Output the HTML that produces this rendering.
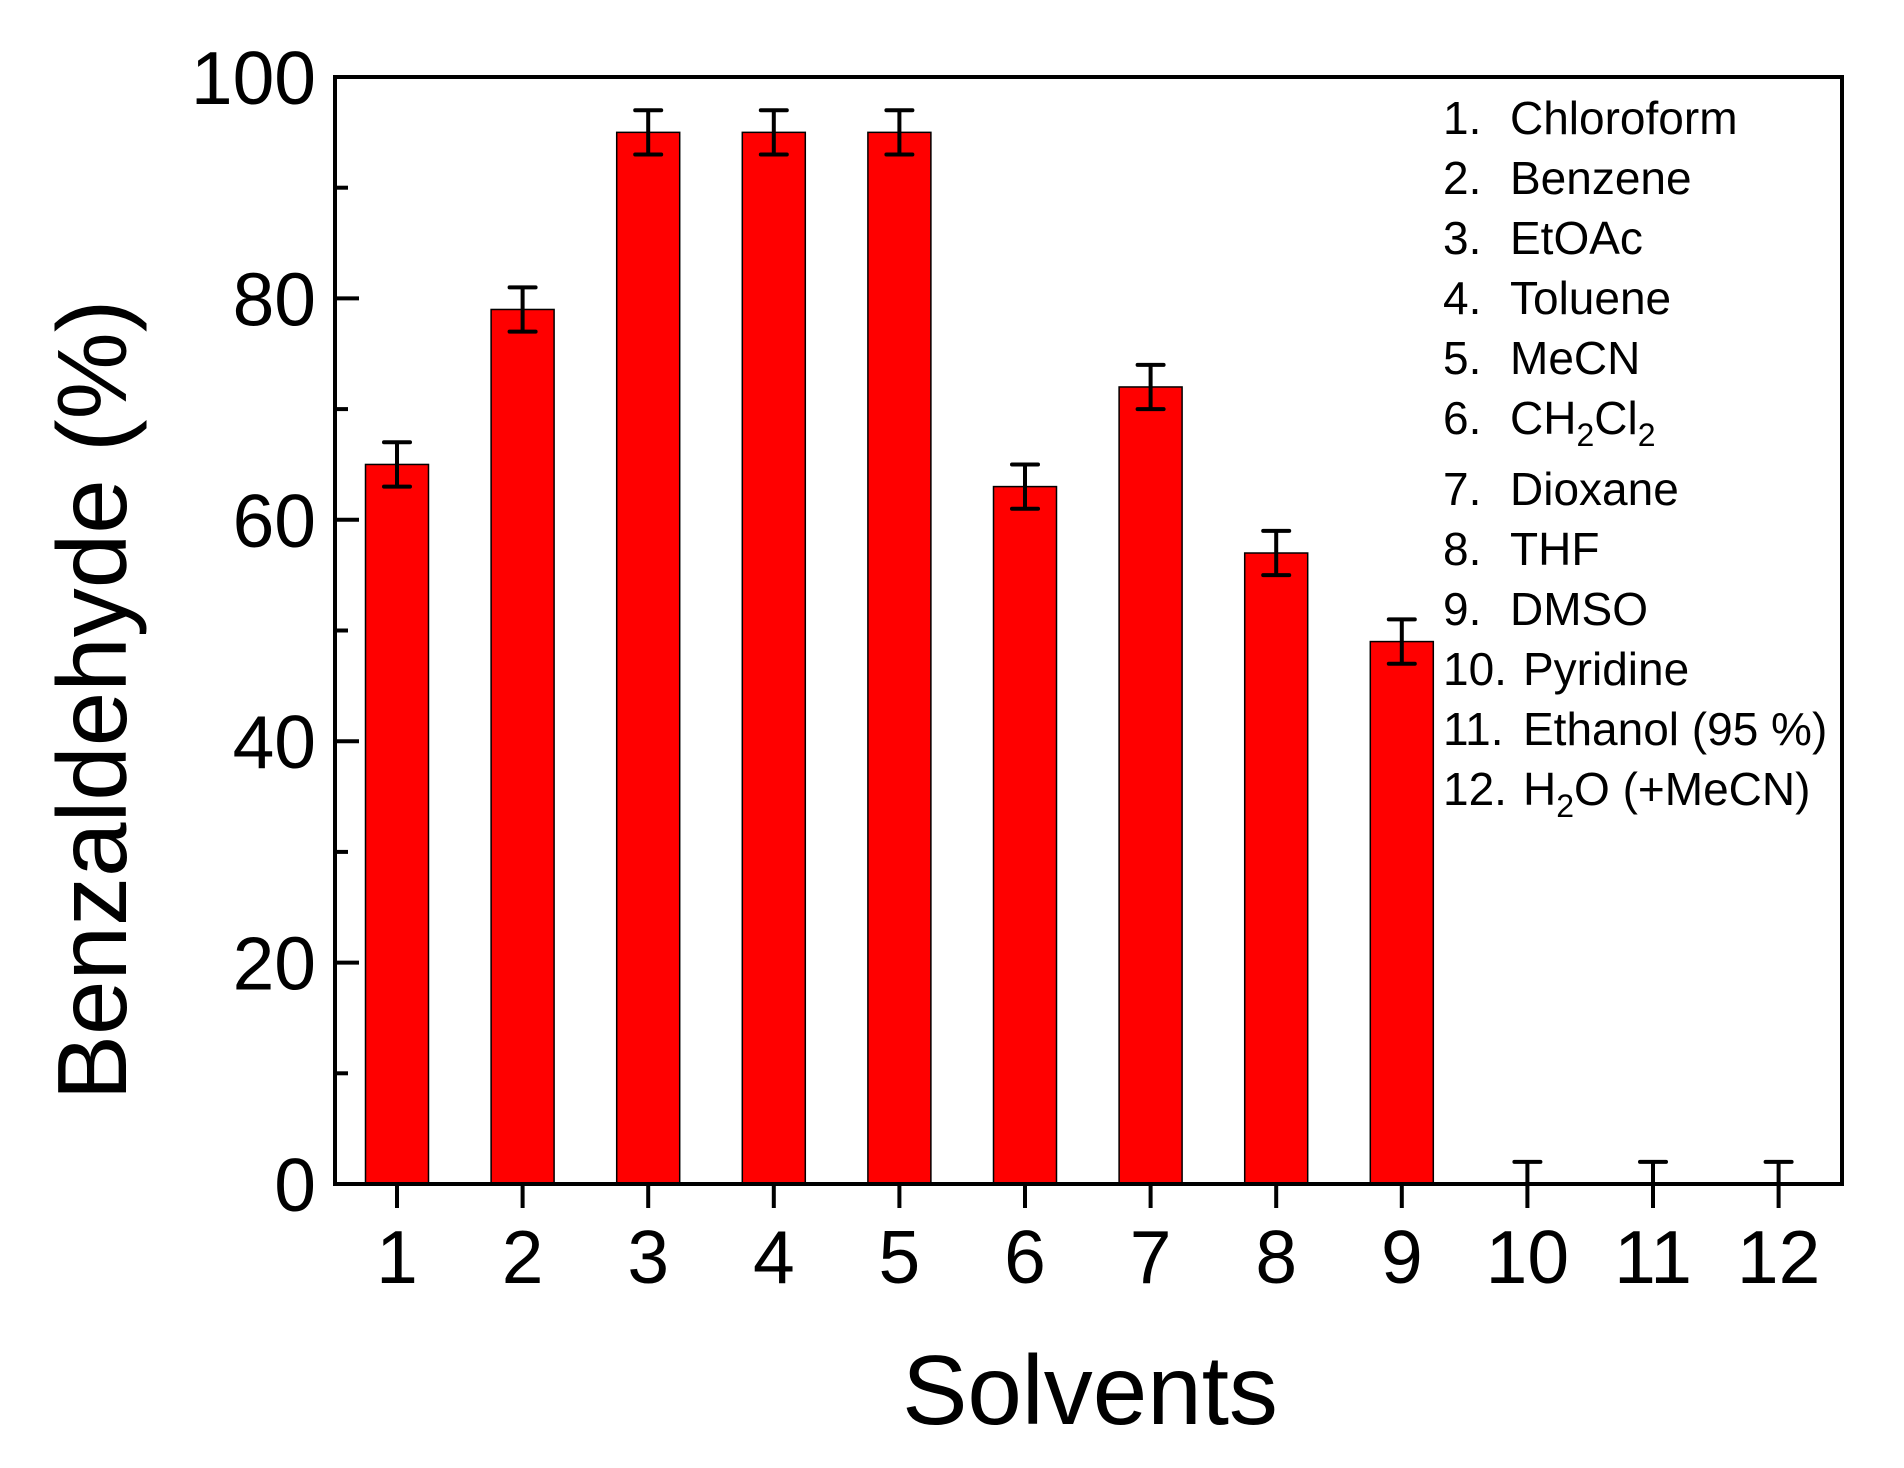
<!DOCTYPE html>
<html><head><meta charset="utf-8"><style>html,body{margin:0;padding:0;background:#fff}svg{display:block}</style></head>
<body>
<svg id="chart" width="1904" height="1468" viewBox="0 0 1904 1468" xmlns="http://www.w3.org/2000/svg" font-family="Liberation Sans, Arial, sans-serif">
<g id="plot"></g>
<g id="legend" font-size="46" fill="#000"></g>
<text x="1090" y="1424" font-size="98" text-anchor="middle">Solvents</text>
<text transform="translate(126,700) rotate(-90)" font-size="98" text-anchor="middle">Benzaldehyde (%)</text>
</svg>
<script>
const categories = ["1","2","3","4","5","6","7","8","9","10","11","12"];
const values = [65,79,95,95,95,63,72,57,49,0,0,0];
const errors = [2,2,2,2,2,2,2,2,2,2,2,2];
const yTicks = [0,20,40,60,80,100];
const yMinor = [10,30,50,70,90];
const solventNames = ["Chloroform","Benzene","EtOAc","Toluene","MeCN","CH2Cl2","Dioxane","THF","DMSO","Pyridine","Ethanol (95 %)","H2O (+MeCN)"];

const NS = "http://www.w3.org/2000/svg";
const L = 335, R = 1842, T = 77, B = 1184;
const x0 = 397, dx = 125.6;
function xPos(i){ return x0 + i*dx; }
function yPos(v){ return B - (v/100)*(B-T); }
const plot = document.getElementById('plot');
function mk(tag, attrs, parent){ const e=document.createElementNS(NS,tag); for(const k in attrs) e.setAttribute(k,attrs[k]); (parent||plot).appendChild(e); return e; }

const barW = 63;
categories.forEach((c,i)=>{
  const v = values[i];
  if (v > 0) {
    const r = mk('rect',{x:xPos(i)-barW/2, y:yPos(v), width:barW, height:B-yPos(v), fill:'#ff0000', stroke:'#000', 'stroke-width':1.5});
    
    
  }
  const g = mk('g',{stroke:'#000','stroke-width':4,fill:'none'});
  
  
  const lo = Math.max(0, v-errors[i]), hi = v+errors[i];
  mk('line',{x1:xPos(i),x2:xPos(i),y1:yPos(lo),y2:yPos(hi)},g);
  mk('line',{x1:xPos(i)-13,x2:xPos(i)+13,y1:yPos(hi),y2:yPos(hi),'stroke-linecap':'round'},g);
  if (v > 0) mk('line',{x1:xPos(i)-13,x2:xPos(i)+13,y1:yPos(lo),y2:yPos(lo),'stroke-linecap':'round'},g);
  const t = mk('line',{x1:xPos(i),x2:xPos(i),y1:B,y2:B+24,stroke:'#000','stroke-width':4});
  
  
  const lab = mk('text',{x:xPos(i), y:1283, 'font-size':75, 'text-anchor':'middle'});
  lab.textContent = c;
  
  
});
yTicks.forEach(v=>{
  const t = mk('line',{x1:L,x2:L+24,y1:yPos(v),y2:yPos(v),stroke:'#000','stroke-width':4});
  
  
  const lab = mk('text',{x:316, y:yPos(v)+27, 'font-size':75, 'text-anchor':'end'});
  lab.textContent = v;
  
  
});
yMinor.forEach(v=>{
  const t = mk('line',{x1:L,x2:L+13,y1:yPos(v),y2:yPos(v),stroke:'#000','stroke-width':4});
  
  
});
const frame = mk('rect',{x:L,y:T,width:R-L,height:B-T,fill:'none',stroke:'#000','stroke-width':4});



const legend = document.getElementById('legend');
const baselines = [134,194,254,314,374,434,505,565,625,685,745,805];
solventNames.forEach((n,i)=>{
  const t = mk('text',{x:1443, y:baselines[i]}, legend);
  
  
  const num = document.createElementNS(NS,'tspan'); num.textContent = (i+1)+'.'; t.appendChild(num);
  const nameX = i >= 9 ? 1523 : 1510;
  const m = n.match(/^(CH)2(Cl)2$/) ? ['CH','2','Cl','2'] : (n.startsWith('H2O') ? ['H','2',n.slice(2)] : [n]);
  m.forEach((part,k)=>{
    const ts = document.createElementNS(NS,'tspan');
    ts.textContent = part;
    if (k===0) ts.setAttribute('x', nameX);
    if (k%2===1) { ts.setAttribute('dy','12'); ts.setAttribute('font-size','32'); }
    else if (k>0) { ts.setAttribute('dy','-12'); }
    t.appendChild(ts);
  });
});
</script>
</body></html>
